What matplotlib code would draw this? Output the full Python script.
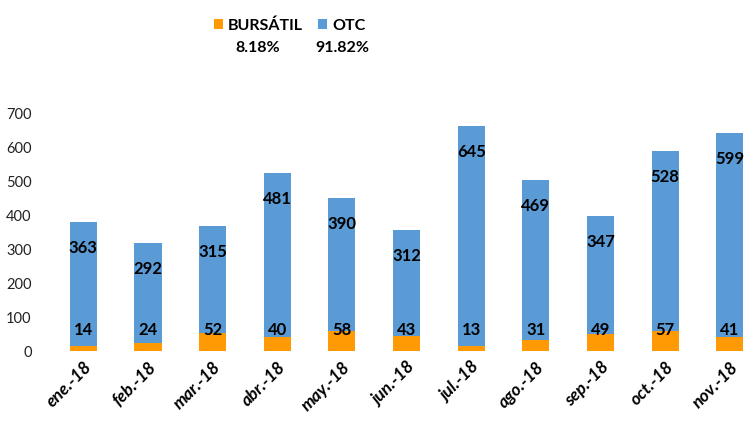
import matplotlib.pyplot as plt

plt.rcParams['font.family'] = ['Lato', 'DejaVu Sans']

# Datos
meses = ['ene.-18', 'feb.-18', 'mar.-18', 'abr.-18', 'may.-18', 'jun.-18',
         'jul.-18', 'ago.-18', 'sep.-18', 'oct.-18', 'nov.-18']
bursatil = [14, 24, 52, 40, 58, 43, 13, 31, 49, 57, 41]
otc = [363, 292, 315, 481, 390, 312, 645, 469, 347, 528, 599]
porcentajes = ['8.18%', '91.82%']

naranja = '#FF9A05'
azul = '#5B9BD5'

fig = plt.figure(figsize=(7.44, 4.35), dpi=100)
ax = fig.add_axes([51 / 744, 0.191, 1 - 51 / 744, 0.549])

x = list(range(len(meses)))
b1 = ax.bar(x, bursatil, width=0.42, color=naranja, label='BURSÁTIL')
b2 = ax.bar(x, otc, width=0.42, bottom=bursatil, color=azul, label='OTC')

# Etiquetas de datos
for i in x:
    ax.text(i, 65, str(bursatil[i]), ha='center', va='center',
            fontsize=12, fontweight='bold', color='black')
    ax.annotate(str(otc[i]), (i, bursatil[i] + otc[i]), xytext=(0, -18),
                textcoords='offset points', ha='center', va='center',
                fontsize=12, fontweight='bold', color='black')

ax.set_ylim(0, 700)
ax.set_xlim(-0.5, 10.22)
ax.set_yticks(range(0, 701, 100))
ax.tick_params(axis='y', length=0, labelsize=10.5, labelcolor='#222222', pad=14)
ax.tick_params(axis='x', length=0, pad=5)
ax.set_xticks(x)
ax.set_xticklabels(meses, rotation=45, ha='right', rotation_mode='anchor',
                   fontsize=12.5, fontweight='bold', fontstyle='italic')
for s in ax.spines.values():
    s.set_visible(False)

fig.legend(handles=[b1, b2], loc='upper left', bbox_to_anchor=(0.268, 0.99),
           ncol=2, frameon=False, handlelength=0.6, handleheight=0.6,
           handletextpad=0.3, columnspacing=0.9,
           prop={'weight': 'bold', 'size': 11.5})
fig.text(0.347, 0.89, porcentajes[0], ha='center', va='center',
         fontsize=11.5, fontweight='bold')
fig.text(0.46, 0.89, porcentajes[1], ha='center', va='center',
         fontsize=11.5, fontweight='bold')

fig.savefig('out.png', dpi=100)
